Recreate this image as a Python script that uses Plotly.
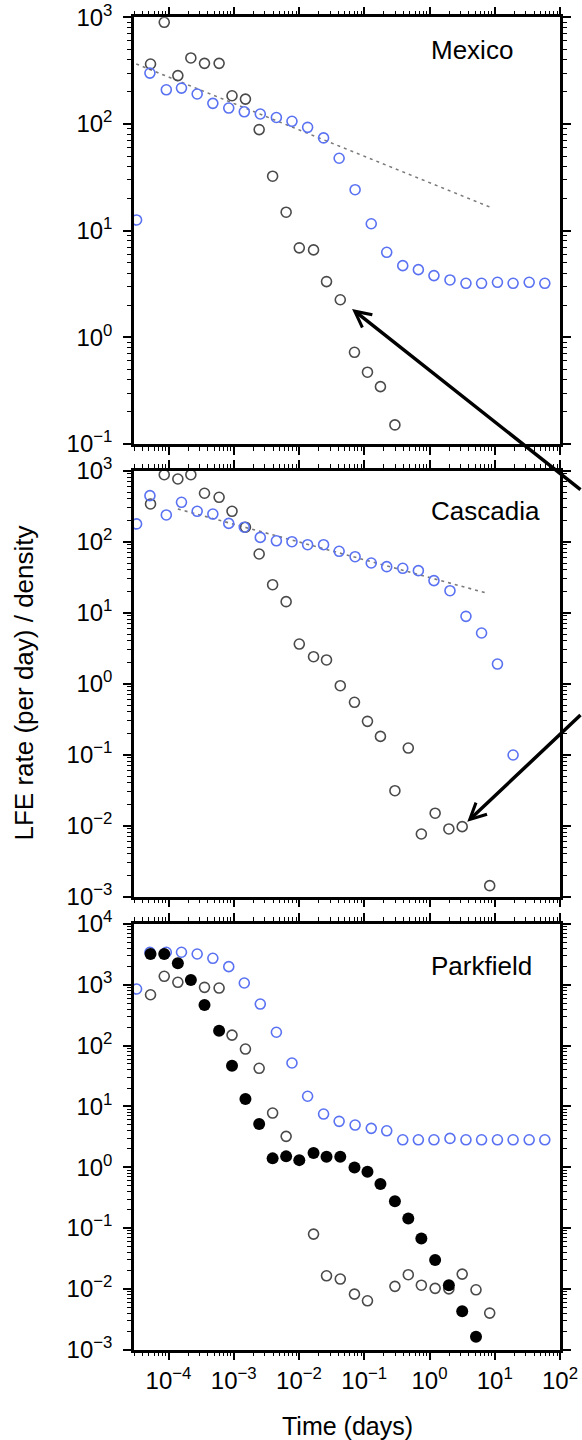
import math
import plotly.graph_objects as go
from plotly.subplots import make_subplots

# ---- time bins (days) ----
# bins for the LFE-sequence rates (open grey / filled black)
t_lfe = [5.3e-5, 8.6e-5, 1.39e-4, 2.2e-4, 3.56e-4, 5.96e-4, 9.4e-4, 1.51e-3,
         2.45e-3, 3.94e-3, 6.35e-3, 1.01e-2, 1.67e-2, 2.64e-2, 4.29e-2, 7.08e-2,
         0.112, 0.177, 0.295, 0.473, 0.750, 1.22, 1.98, 3.17, 5.16, 8.37]
# bins for the blue series
t_blue = [3.24e-5, 5.19e-5, 9.25e-5, 1.58e-4, 2.75e-4, 4.78e-4, 8.38e-4, 1.45e-3,
          2.55e-3, 4.50e-3, 7.80e-3, 1.355e-2, 2.38e-2, 4.12e-2, 7.24e-2, 0.128,
          0.221, 0.389, 0.675, 1.17, 2.06, 3.62, 6.28, 11.0, 19.1, 33.7, 58.5]

# ---- Mexico ----
mex_grey = [365, 898, 284, 416, 370, 370, 184, 171, 88.6, 32.4, 14.9, 6.9, 6.6,
            3.33, 2.25, 0.724, 0.471, 0.345, 0.151,
            None, None, None, None, None, None, None]
mex_blue = [12.6, 300, 209, 217, 191, 156, 141, 130, 124, 115, 106, 93, 74, 47.7,
            24.2, 11.6, 6.27, 4.70, 4.31, 3.79, 3.45, 3.21, 3.21, 3.28, 3.21, 3.28, 3.21]
mex_fit_t = [3.2e-5, 8.5]
mex_fit_r = [365, 16.6]

# ---- Cascadia ----
cas_grey = [340, 879, 764, 879, 481, 422, 268, 160, 67.1, 24.8, 14.3, 3.62, 2.40,
            2.16, 0.937, 0.547, 0.295, 0.181, 0.0311, 0.124, 0.00764, 0.0150,
            0.0090, 0.0097, None, 0.00143]
cas_blue = [178, 445, 238, 359, 268, 245, 181, 160, 115, 103, 100, 90.7, 90.7, 73.3,
            61.5, 50.1, 44.5, 42.2, 39.1, 28.3, 20.4, 8.89, 5.18, 1.89, 0.099,
            None, None]
cas_fit_t = [1.39e-4, 7.65]
cas_fit_r = [289, 18.8]

# ---- Parkfield ----
pkf_grey = [687, 1380, 1100, None, 909, 885, 149, 87.8, 42.4, 7.78, 3.22, None,
            0.0796, 0.0164, 0.0145, 0.0082, 0.00637, None, 0.0110, 0.0171, 0.0115,
            0.0102, 0.0100, 0.0175, 0.00966, 0.0040]
pkf_black = [3210, 3210, 2260, 1200, 466, 176, 46.7, 13.2, 5.14, 1.40, 1.51, 1.31,
             1.71, 1.49, 1.49, 0.995, 0.843, 0.529, 0.275, 0.144, 0.0676, 0.0298,
             0.0115, 0.00427, 0.00163, None]
pkf_blue = [853, 3430, 3430, 3430, 3210, 2730, 1990, 1072, 483, 166, 51.8, 14.7,
            7.50, 5.69, 4.94, 4.36, 3.98, 2.83, 2.83, 2.83, 2.98, 2.83, 2.83, 2.83,
            2.83, 2.83, 2.83]

panel_names = ["Mexico", "Cascadia", "Parkfield"]
y_decades = [(-1, 3), (-3, 3), (-3, 4)]
x_decades = (-4, 2)

GREY = "#4a4a4a"
BLUE = "#5a72f2"
FONT = "Liberation Sans, Arial, Helvetica, sans-serif"

W, H = 582, 1440
ML, MR, MT, MB = 134, 22, 17, 90
plot_h = H - MT - MB
# panel pixel extents (top, bottom) measured from the top of the page
panel_px = [(17.3, 444.0), (470.7, 896.7), (924.0, 1349.7)]


def ydom(top, bot):
    return [(H - MB - bot) / plot_h, (H - MB - top) / plot_h]


def sup_label(n):
    s = str(n).replace("-", "\u2212")
    return f"10<sup>{s}</sup>"


def minor_vals(lo, hi):
    return [k * 10.0 ** e for e in range(lo - 1, hi + 1) for k in range(2, 10)]


fig = make_subplots(rows=3, cols=1)

open_marker = lambda c: dict(symbol="circle-open", size=10, color=c,
                             line=dict(width=1.6, color=c))
fit_line = dict(color="#7a7a7a", width=1.6, dash="3px,4px")

# Mexico
fig.add_trace(go.Scatter(x=mex_fit_t, y=mex_fit_r, mode="lines", line=fit_line), 1, 1)
fig.add_trace(go.Scatter(x=t_lfe, y=mex_grey, mode="markers", marker=open_marker(GREY)), 1, 1)
fig.add_trace(go.Scatter(x=t_blue, y=mex_blue, mode="markers", marker=open_marker(BLUE)), 1, 1)
# Cascadia
fig.add_trace(go.Scatter(x=cas_fit_t, y=cas_fit_r, mode="lines", line=fit_line), 2, 1)
fig.add_trace(go.Scatter(x=t_lfe, y=cas_grey, mode="markers", marker=open_marker(GREY)), 2, 1)
fig.add_trace(go.Scatter(x=t_blue, y=cas_blue, mode="markers", marker=open_marker(BLUE)), 2, 1)
# Parkfield
fig.add_trace(go.Scatter(x=t_blue, y=pkf_blue, mode="markers", marker=open_marker(BLUE)), 3, 1)
fig.add_trace(go.Scatter(x=t_lfe, y=pkf_grey, mode="markers", marker=open_marker(GREY)), 3, 1)
fig.add_trace(go.Scatter(x=t_lfe, y=pkf_black, mode="markers",
                         marker=dict(symbol="circle", size=12, color="black")), 3, 1)

x_ticks = [10.0 ** e for e in range(x_decades[0], x_decades[1] + 1)]
common = dict(type="log", showgrid=False, zeroline=False, showline=True,
              linecolor="black", linewidth=2.5, mirror="ticks", automargin=False,
              ticks="outside", ticklen=8, tickwidth=1.6, tickcolor="black",
              ticklabeloverflow="allow",
              tickfont=dict(family=FONT, size=24, color="black"))

for i in range(3):
    top, bot = panel_px[i]
    lo, hi = y_decades[i]
    xa = dict(common, range=[-4.529, 2.0], domain=[0, 1],
              tickvals=x_ticks, ticktext=[sup_label(e) for e in range(x_decades[0], x_decades[1] + 1)],
              showticklabels=(i == 2),
              minor=dict(ticks="outside", ticklen=4, tickwidth=1, tickcolor="black",
                         tickvals=minor_vals(x_decades[0] - 1, x_decades[1])))
    ya = dict(common, range=[lo, hi], domain=ydom(top, bot),
              tickvals=[10.0 ** e for e in range(lo, hi + 1)],
              ticktext=[sup_label(e) for e in range(lo, hi + 1)],
              ticklabelstandoff=6,
              minor=dict(ticks="outside", ticklen=4, tickwidth=1, tickcolor="black",
                         tickvals=minor_vals(lo, hi)))
    sfx = "" if i == 0 else str(i + 1)
    fig.layout["xaxis" + sfx].update(xa)
    fig.layout["yaxis" + sfx].update(ya)

annotations = []
label_shift = [-33, -40, -42]
for i, name in enumerate(panel_names):
    sfx = "" if i == 0 else str(i + 1)
    annotations.append(dict(text=name, xref="x" + sfx + " domain", yref="y" + sfx + " domain",
                            x=0.6925, y=1, xanchor="left", yanchor="middle",
                            yshift=label_shift[i], showarrow=False,
                            font=dict(family=FONT, size=26, color="black")))

annotations.append(dict(text="Time (days)", xref="paper", yref="paper", x=0.5, y=0,
                        xanchor="center", yanchor="middle", yshift=-76, showarrow=False,
                        font=dict(family=FONT, size=25, color="black")))
annotations.append(dict(text="LFE rate (per day) / density", xref="paper", yref="paper",
                        x=0, y=0.5, xanchor="center", yanchor="middle", xshift=-111,
                        textangle=-90, showarrow=False,
                        font=dict(family=FONT, size=26, color="black")))

# arrows pointing at individual grey points in the Mexico and Cascadia panels
arrow_targets = [("x", "y", t_lfe[14], mex_grey[14], 270, 191, 15),
                 ("x2", "y2", t_lfe[23], cas_grey[23], 148, -113, 7)]
for xr, yr, tx, ry, ax, ay, so in arrow_targets:
    annotations.append(dict(text="", xref=xr, yref=yr, x=math.log10(tx), y=math.log10(ry),
                            ax=ax, ay=ay, axref="pixel", ayref="pixel",
                            showarrow=True, arrowhead=5, arrowsize=0.9, arrowwidth=3.5,
                            arrowcolor="black", standoff=so))

fig.update_layout(width=W, height=H, margin=dict(l=ML, r=MR, t=MT, b=MB),
                  paper_bgcolor="white", plot_bgcolor="white", showlegend=False,
                  annotations=annotations, font=dict(family=FONT))

fig.write_html("out.html")
